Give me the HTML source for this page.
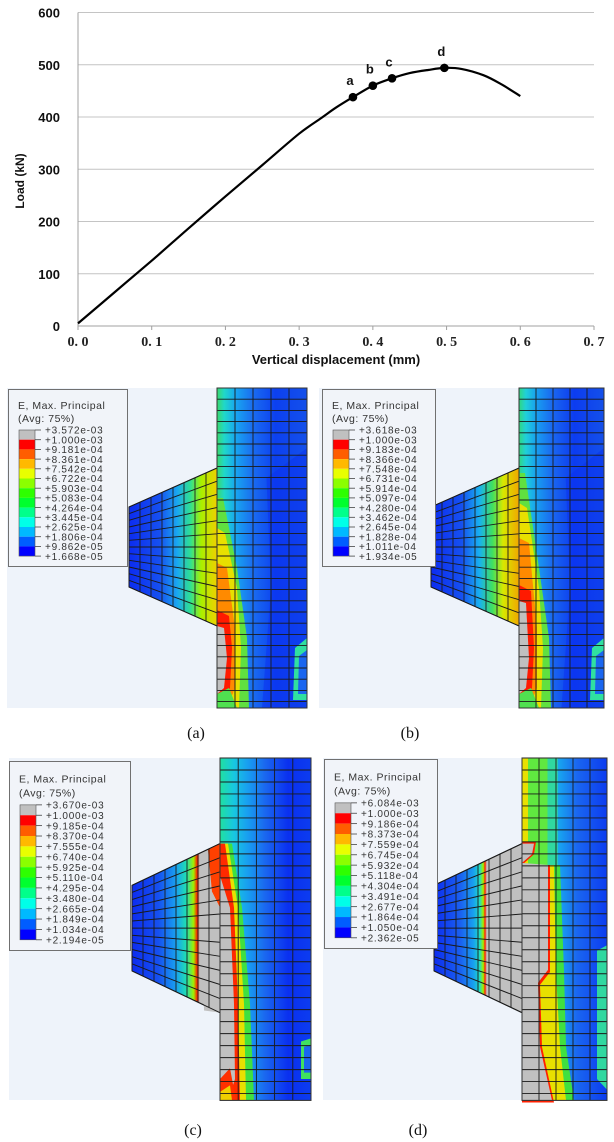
<!DOCTYPE html>
<html><head><meta charset="utf-8">
<style>
html,body{margin:0;padding:0;background:#fff;}
body{width:614px;height:1142px;position:relative;overflow:hidden;font-family:"Liberation Sans",sans-serif;}
svg{position:absolute;left:0;top:0;}
</style></head>
<body>
<svg id="chart" width="614" height="380" viewBox="0 0 614 380"></svg>
<svg id="panels" width="614" height="1142" viewBox="0 0 614 1142" style="top:0"></svg>
<script>
// ---------- chart data ----------
const dispValues = [0,0.05,0.1,0.15,0.2,0.25,0.3,0.33,0.35,0.373,0.4,0.426,0.45,0.475,0.497,0.52,0.55,0.575,0.6];
const loadValues = [5,65,125,187,248,308,368,398,418,438,460,474,484,490,494,492,480,462,440];
const markerLabels = ['a','b','c','d'];
const markerDisp = [0.373,0.4,0.426,0.497];
const markerLoad = [438,460,474,494];
const xTickValues = [0,0.1,0.2,0.3,0.4,0.5,0.6,0.7];
const xTickLabels = ['0. 0','0. 1','0. 2','0. 3','0. 4','0. 5','0. 6','0. 7'];
const yTickValues = [0,100,200,300,400,500,600];

const NS='http://www.w3.org/2000/svg';
function mk(parent,tag,attrs,text){const e=document.createElementNS(NS,tag);for(const k in attrs)e.setAttribute(k,attrs[k]);if(text!==undefined)e.textContent=text;parent.appendChild(e);return e;}

const chart=document.getElementById('chart');
const X0=78,X1=594,Y0=326,Y1=12.5;
const xs=v=>X0+(v/0.7)*(X1-X0);
const ys=v=>Y0-(v/600)*(Y0-Y1);

yTickValues.forEach(v=>{
  let g=mk(chart,'line',{x1:X0,x2:X1,y1:ys(v),y2:ys(v),stroke:v===0?'#a0a0a0':'#c4c4c4','stroke-width':1});
  
  
  let t=mk(chart,'text',{x:60,y:ys(v)+5,'text-anchor':'end','font-size':13,'font-weight':'bold',fill:'#111'},String(v));
  
  
});
let ax=mk(chart,'line',{x1:X0,x2:X0,y1:Y1,y2:Y0,stroke:'#a0a0a0','stroke-width':1});


xTickValues.forEach((v,i)=>{
  let tk=mk(chart,'line',{x1:xs(v),x2:xs(v),y1:Y0,y2:Y0+4,stroke:'#a0a0a0'});
  
  
  let t=mk(chart,'text',{x:xs(v),y:Y0+20,'text-anchor':'middle','font-size':14,'font-weight':'bold','font-family':'"Liberation Serif",serif',fill:'#222'},xTickLabels[i]);
  
  
});
let xt=mk(chart,'text',{x:336,y:364,'text-anchor':'middle','font-size':13,'font-weight':'bold',fill:'#111'},'Vertical displacement (mm)');


let yt=mk(chart,'text',{x:0,y:0,'text-anchor':'middle','font-size':12,'font-weight':'bold',fill:'#111',transform:'translate(24,181) rotate(-90)'},'Load (kN)');


const pts=dispValues.map((v,i)=>[xs(v),ys(loadValues[i])]);
let d='M'+pts[0][0].toFixed(1)+' '+pts[0][1].toFixed(1);
for(let i=0;i<pts.length-1;i++){
  const p0=pts[Math.max(0,i-1)],p1=pts[i],p2=pts[i+1],p3=pts[Math.min(pts.length-1,i+2)];
  const c1=[p1[0]+(p2[0]-p0[0])/6,p1[1]+(p2[1]-p0[1])/6];
  const c2=[p2[0]-(p3[0]-p1[0])/6,p2[1]-(p3[1]-p1[1])/6];
  d+=` C${c1[0].toFixed(1)} ${c1[1].toFixed(1)} ${c2[0].toFixed(1)} ${c2[1].toFixed(1)} ${p2[0].toFixed(1)} ${p2[1].toFixed(1)}`;
}
let ln=mk(chart,'path',{d:d,fill:'none',stroke:'#000','stroke-width':2.2,'stroke-linejoin':'round'});


markerDisp.forEach((v,i)=>{
  let c=mk(chart,'circle',{cx:xs(v),cy:ys(markerLoad[i]),r:4.3,fill:'#000'});
  
  
  let t=mk(chart,'text',{x:xs(v)-3,y:ys(markerLoad[i])-12,'text-anchor':'middle','font-size':13,'font-weight':'bold',fill:'#111'},markerLabels[i]);
  
  
});

// ---------- contour panels ----------
const P=document.getElementById('panels');
const legendColors=['#c0c0c0','#ff0000','#ff5d00','#ffb900','#e8ff00','#8bff00','#2eff00','#00ff2e','#00ff8b','#00ffe8','#00b9ff','#005dff','#0000ff'];
const legendA=['+3.572e-03','+1.000e-03','+9.181e-04','+8.361e-04','+7.542e-04','+6.722e-04','+5.903e-04','+5.083e-04','+4.264e-04','+3.445e-04','+2.625e-04','+1.806e-04','+9.862e-05','+1.668e-05'];
const legendB=['+3.618e-03','+1.000e-03','+9.183e-04','+8.366e-04','+7.548e-04','+6.731e-04','+5.914e-04','+5.097e-04','+4.280e-04','+3.462e-04','+2.645e-04','+1.828e-04','+1.011e-04','+1.934e-05'];
const legendC=['+3.670e-03','+1.000e-03','+9.185e-04','+8.370e-04','+7.555e-04','+6.740e-04','+5.925e-04','+5.110e-04','+4.295e-04','+3.480e-04','+2.665e-04','+1.849e-04','+1.034e-04','+2.194e-05'];
const legendD=['+6.084e-03','+1.000e-03','+9.186e-04','+8.373e-04','+7.559e-04','+6.745e-04','+5.932e-04','+5.118e-04','+4.304e-04','+3.491e-04','+2.677e-04','+1.864e-04','+1.050e-04','+2.362e-05'];

const defs=mk(P,'defs',{});
function grad(id,stops,x1,x2){const g=mk(defs,'linearGradient',{id:id,gradientUnits:'userSpaceOnUse',x1:x1,x2:x2,y1:0,y2:0});stops.forEach(s=>mk(g,'stop',{offset:s[0],'stop-color':s[1]}));}

const panels=[
 {id:'a',bx:7,by:388,bw:300,bh:320,cx:217,cw:90,sy:1,lx:8,ly:389,lw:119,lh:177,leg:legendA,cap:'(a)',capx:196,capy:738},
 {id:'b',bx:319,by:388,bw:285,bh:320,cx:519,cw:85,sy:1,lx:322,ly:389,lw:113,lh:177,leg:legendB,cap:'(b)',capx:410,capy:738},
 {id:'c',bx:9,by:758,bw:302,bh:342,cx:220,cw:91,sy:1.07,lx:9,ly:761,lw:121,lh:189,leg:legendC,cap:'(c)',capx:193,capy:1135},
 {id:'d',bx:323,by:758,bw:284,bh:342,cx:522,cw:85,sy:1.07,lx:324,ly:759,lw:113,lh:189,leg:legendD,cap:'(d)',capx:418,capy:1135}
];
grad('colA',[[0,'#3ad86a'],[0.08,'#20d8c8'],[0.2,'#18a8f0'],[0.4,'#1a6cf0'],[0.65,'#0c40f0'],[1,'#1450ea']],0,90);
grad('flA',[[0,'#0c2cf0'],[0.35,'#1650f0'],[0.55,'#1aa8f0'],[0.7,'#30e090'],[0.82,'#a8f000'],[1,'#f0d000']],-88,0);
grad('colB',[[0,'#30d880'],[0.08,'#20d0d8'],[0.2,'#18a0f0'],[0.4,'#1a66f0'],[0.65,'#0c3cf0'],[1,'#1450ea']],0,85);
grad('flB',[[0,'#0c2cf0'],[0.35,'#1650f0'],[0.55,'#18b0f0'],[0.7,'#40e060'],[0.82,'#d8e800'],[1,'#f0a800']],-88,0);
grad('colC',[[0,'#20e0a0'],[0.15,'#18c8e0'],[0.3,'#18a0f0'],[0.5,'#1a66f0'],[0.75,'#0a30f0'],[1,'#0c3cf0']],0,91);
grad('flC',[[0,'#0c2cf0'],[0.3,'#1650f0'],[0.5,'#18a0f0'],[0.62,'#20e0b0'],[0.7,'#a0f000'],[0.74,'#ff2000'],[0.77,'#c0c0c0'],[1,'#c0c0c0']],-88,0);
grad('colD',[[0,'#20e0a0'],[0.25,'#18c8e0'],[0.45,'#18a0f0'],[0.65,'#1a66f0'],[1,'#0c3cf0']],0,85);
grad('flD',[[0,'#0c2cf0'],[0.3,'#1a60f0'],[0.45,'#18a0f0'],[0.52,'#20e0c0'],[0.56,'#a0f000'],[0.58,'#ff2000'],[0.6,'#c0c0c0'],[1,'#c0c0c0']],-88,0);

function drawPanel(p){
  const g=mk(P,'g',{});
  
  
  mk(g,'rect',{x:p.bx,y:p.by,width:p.bw,height:p.bh,fill:'#eef3fa'});
  const m=mk(g,'g',{transform:`translate(${p.cx},${p.by}) scale(1,${p.sy})`});
  const H=320,cw=p.cw, up=p.id.toUpperCase();
  const col=mk(m,'rect',{x:0,y:0,width:cw,height:H,fill:`url(#col${up})`});
  
  
  if(p.id==='a'||p.id==='b'){
    mk(m,'path',{d:`M${cw*0.55} 90 L${cw} 60 L${cw} 320 L${cw*0.5} 320 L${cw*0.6} 200 Z`,fill:'#0a30f0',opacity:0.5});
    const k=p.id==='a'?0:-25;
    mk(m,'path',{d:`M0 ${110+k} L6 ${110+k} L20 180 L30 250 L32 320 L0 320Z`,fill:'#60e040'});
    mk(m,'path',{d:`M0 ${140+k} L8 ${145+k} L20 200 L24 260 L22 320 L0 320Z`,fill:'#e8e000'});
    mk(m,'path',{d:`M0 ${175+k} L10 ${180+k} L18 240 L18 300 L10 320 L0 320Z`,fill:'#ff8a00'});
    mk(m,'path',{d:`M0 ${222+k} L12 ${228+k} L15 260 L13 300 L5 318 L0 318Z`,fill:'#ff1a00'});
    mk(m,'path',{d:`M0 ${238+k} L7 ${240+k} L10 270 L7 300 L0 306Z`,fill:'#c0c0c0'});
    mk(m,'path',{d:'M0 306 L12 300 L20 320 L0 320Z',fill:'#50e050'});
    mk(m,'path',{d:`M${cw-12} 260 L${cw} 250 L${cw} 312 L${cw-14} 312Z`,fill:'#30e0a0'});
    mk(m,'path',{d:`M${cw-8} 268 L${cw} 262 L${cw} 306 L${cw-9} 306Z`,fill:'#1a66f0'});
  }
  if(p.id==='c'){
    mk(m,'path',{d:'M0 80 L12 80 L22 140 L30 230 L34 320 L0 320Z',fill:'#40e040'});
    mk(m,'path',{d:'M0 80 L8 80 L18 140 L24 230 L26 320 L0 320Z',fill:'#e8e000'});
    mk(m,'path',{d:'M0 80 L5 80 L14 140 L18 230 L20 320 L0 320Z',fill:'#ff2a00'});
    mk(m,'path',{d:'M0 110 L10 140 L14 230 L15 300 L8 320 L0 320Z',fill:'#c0c0c0'});
    mk(m,'path',{d:'M0 300 L10 290 L16 320 L0 320Z',fill:'#ff3000'});
    mk(m,'path',{d:'M0 312 L10 306 L12 320 L0 320Z',fill:'#f0d000'});
    mk(m,'path',{d:`M${cw-10} 265 L${cw} 262 L${cw} 300 L${cw-10} 300Z`,fill:'#40e060'});
    mk(m,'path',{d:`M${cw-7} 270 L${cw} 268 L${cw} 294 L${cw-7} 294Z`,fill:'#1a66f0'});
  }
  if(p.id==='d'){
    mk(m,'rect',{x:0,y:0,width:cw*0.42,height:100,fill:'#30d8a0'});
    mk(m,'rect',{x:0,y:0,width:cw*0.3,height:100,fill:'#60e840'});
    mk(m,'rect',{x:0,y:0,width:6,height:100,fill:'#e8e000'});
    mk(m,'path',{d:'M0 100 L38 100 L42 200 L44 270 L52 320 L0 320Z',fill:'#40e040'});
    mk(m,'path',{d:'M0 100 L32 100 L34 200 L38 270 L44 320 L0 320Z',fill:'#e8e000'});
    mk(m,'path',{d:'M0 78 L14 78 L12 90 L0 100 L28 100 L28 200 L18 212 L20 270 L32 322 L0 322Z',fill:'#ff2000'});
    mk(m,'path',{d:'M0 80 L12 80 L10 90 L0 98 L26 100 L26 198 L16 210 L18 270 L30 320 L0 320Z',fill:'#c0c0c0'});
    mk(m,'path',{d:`M${cw-10} 180 L${cw} 175 L${cw} 310 L${cw-10} 300Z`,fill:'#30d8a0'});
  }
  const fl=mk(m,'polygon',{points:'0,80 -88,119 -88,199 0,238',fill:`url(#fl${up})`,stroke:'#222','stroke-width':1});
  
  
  if(p.id==='c'){
    mk(m,'polygon',{points:'0,80 -12,86 -8,125 0,140',fill:'#ff4000'});
    mk(m,'polygon',{points:'0,140 -8,125 -18,160 -16,236 0,238',fill:'#c0c0c0'});
  }
  let md='';
  for(let xx=0;xx<=cw+0.1;xx+=cw/5) md+=`M${xx} 0 V${H} `;
  for(let yy=0;yy<=H;yy+=11.2) md+=`M0 ${yy} H${cw} `;
  for(let k=0;k<=8;k++){const x=-88+k*11;const t=k/8;md+=`M${x} ${119-39*t} L${x} ${199+39*t} `;}
  for(let k=0;k<=12;k++){const t=k/12;md+=`M-88 ${119+80*t} L0 ${80+158*t} `;}
  mk(m,'path',{d:md,fill:'none',stroke:'#1a1a1a','stroke-width':0.9});
  mk(m,'rect',{x:0,y:0,width:cw,height:H,fill:'none',stroke:'#333','stroke-width':1});
  const lg=mk(g,'g',{});
  
  
  mk(lg,'rect',{x:p.lx+0.5,y:p.ly+0.5,width:p.lw,height:p.lh,fill:'#f1f4f9',stroke:'#707070','stroke-width':1});
  const f=p.sy>1?1.07:1;
  mk(lg,'text',{x:p.lx+10,y:p.ly+20*f,'font-size':10.5,'letter-spacing':0.5,fill:'#333'},'E, Max. Principal');
  mk(lg,'text',{x:p.lx+10,y:p.ly+33*f,'font-size':10.5,'letter-spacing':0.5,fill:'#333'},'(Avg: 75%)');
  const bx=p.lx+11, by0=p.ly+41*f, bh=9.7*f;
  legendColors.forEach((c,i)=>{
    const r=mk(lg,'rect',{x:bx,y:by0+i*bh,width:16,height:bh,fill:c});
    
    
  });
  mk(lg,'rect',{x:bx,y:by0,width:16,height:13*bh,fill:'none',stroke:'#555','stroke-width':0.6});
  p.leg.forEach((s,i)=>{
    mk(lg,'line',{x1:bx+16,x2:bx+22,y1:by0+i*bh,y2:by0+i*bh,stroke:'#444','stroke-width':0.8});
    const t=mk(lg,'text',{x:p.lx+37,y:by0+i*bh+3.7,'font-size':10,'letter-spacing':0.75,fill:'#333'},s);
    
    
  });
  const cap=mk(P,'text',{x:p.capx,y:p.capy,'text-anchor':'middle','font-size':16,'font-family':'"Liberation Serif",serif',fill:'#111'},p.cap);
  
  
}
panels.forEach(drawPanel);
</script>
</body></html>
